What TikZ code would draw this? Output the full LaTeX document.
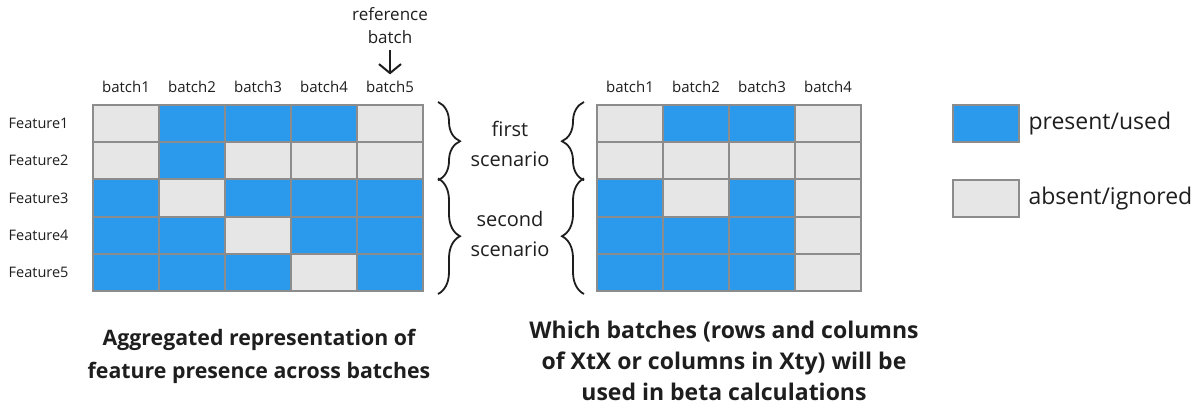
\documentclass[tikz,border=0pt]{standalone}
\usepackage{fontspec}
\setmainfont{Open Sans}
\usetikzlibrary{positioning,arrows.meta,decorations.pathreplacing}

\definecolor{usato}{RGB}{43,154,237}
\definecolor{assente}{RGB}{230,230,230}
\definecolor{bordo}{RGB}{140,140,140}
\definecolor{testo}{RGB}{30,30,30}

\begin{document}
\begin{tikzpicture}[x=1pt, y=-1pt, text=testo,
            cell/.style = {draw=bordo, line width=2pt, minimum width=66pt, minimum height=37.2pt, inner sep=0pt},
            cell0/.style = {cell, fill=assente},
            cell1/.style = {cell, fill=usato},
            lab/.style = {font=\fontsize{15}{17}\selectfont},
            side/.style = {font=\fontsize{20}{30}\selectfont, align=center},
            leg/.style = {font=\fontsize{23}{30}\selectfont},
            titolo/.style = {font=\bfseries, align=center},
            graffa/.style = {decorate, decoration={brace, amplitude=22pt}, line width=1.8pt, draw=testo}]

    \useasboundingbox (0,0) rectangle (1203,412);

    %griglia aggregata
    \foreach \r/\riga in {1/{0,1,1,1,0}, 2/{0,1,0,0,0}, 3/{1,0,1,1,1}, 4/{1,1,0,1,1}, 5/{1,1,1,0,1}}
        \foreach \v [count=\c] in \riga
            \node[cell\v] (a\r\c) at (60+66*\c, 86.4+37.2*\r) {};

    \foreach \r in {1,...,5}
        \node[lab, font=\fontsize{14.5}{17}\selectfont, left=20pt of a\r1] (f\r) {Feature\r};
    \foreach \c in {1,...,5}
        \node[lab, above=8pt of a1\c] (ba\c) {batch\c};

    \node[font=\fontsize{17}{23}\selectfont, align=center, above=30pt of ba5] (rif) {reference\\batch};
    \draw[-{Straight Barb[length=9pt, width=22pt]}, line width=2pt, draw=testo, shorten <=3pt, shorten >=3pt] (rif) -- (ba5);

    %griglia usata nei calcoli
    \foreach \r/\riga in {1/{0,1,1,0}, 2/{0,0,0,0}, 3/{1,0,1,0}, 4/{1,1,1,0}, 5/{1,1,1,0}}
        \foreach \v [count=\c] in \riga
            \node[cell\v] (b\r\c) at (564+66*\c, 86.4+37.2*\r) {};

    \foreach \c in {1,...,4}
        \node[lab, above=8pt of b1\c] (bb\c) {batch\c};

    %graffe e scenari
    \draw[graffa] ([xshift=14pt, yshift=2pt]a15.north east) -- ([xshift=14pt]a25.south east);
    \draw[graffa] ([xshift=14pt]a35.north east) -- ([xshift=14pt, yshift=-2pt]a55.south east);
    \draw[graffa] ([xshift=-12pt]b21.south west) -- ([xshift=-12pt, yshift=2pt]b11.north west);
    \draw[graffa] ([xshift=-12pt, yshift=-2pt]b51.south west) -- ([xshift=-12pt]b31.north west);

    \node[side] (s1) at (510, 144) {first\\scenario};
    \node[side] (s2) at (510, 234) {second\\scenario};

    %legenda
    \node[cell1] (leg1) at (986, 123.5) {};
    \node[cell0] (leg0) at (986, 198.5) {};
    \node[leg, right=5pt of leg1] (t1) {present/used};
    \node[leg, right=5pt of leg0] (t0) {absent/ignored};

    %didascalie
    \node[titolo, font=\fontsize{21.3}{33}\selectfont\bfseries] (tit1) at (259, 356) {Aggregated representation of\\feature presence across batches};
    \node[titolo, font=\fontsize{23}{31}\selectfont\bfseries] (tit2) at (724, 361) {Which batches (rows and columns\\of XtX or columns in Xty) will be\\used in beta calculations};
\end{tikzpicture}
\end{document}
